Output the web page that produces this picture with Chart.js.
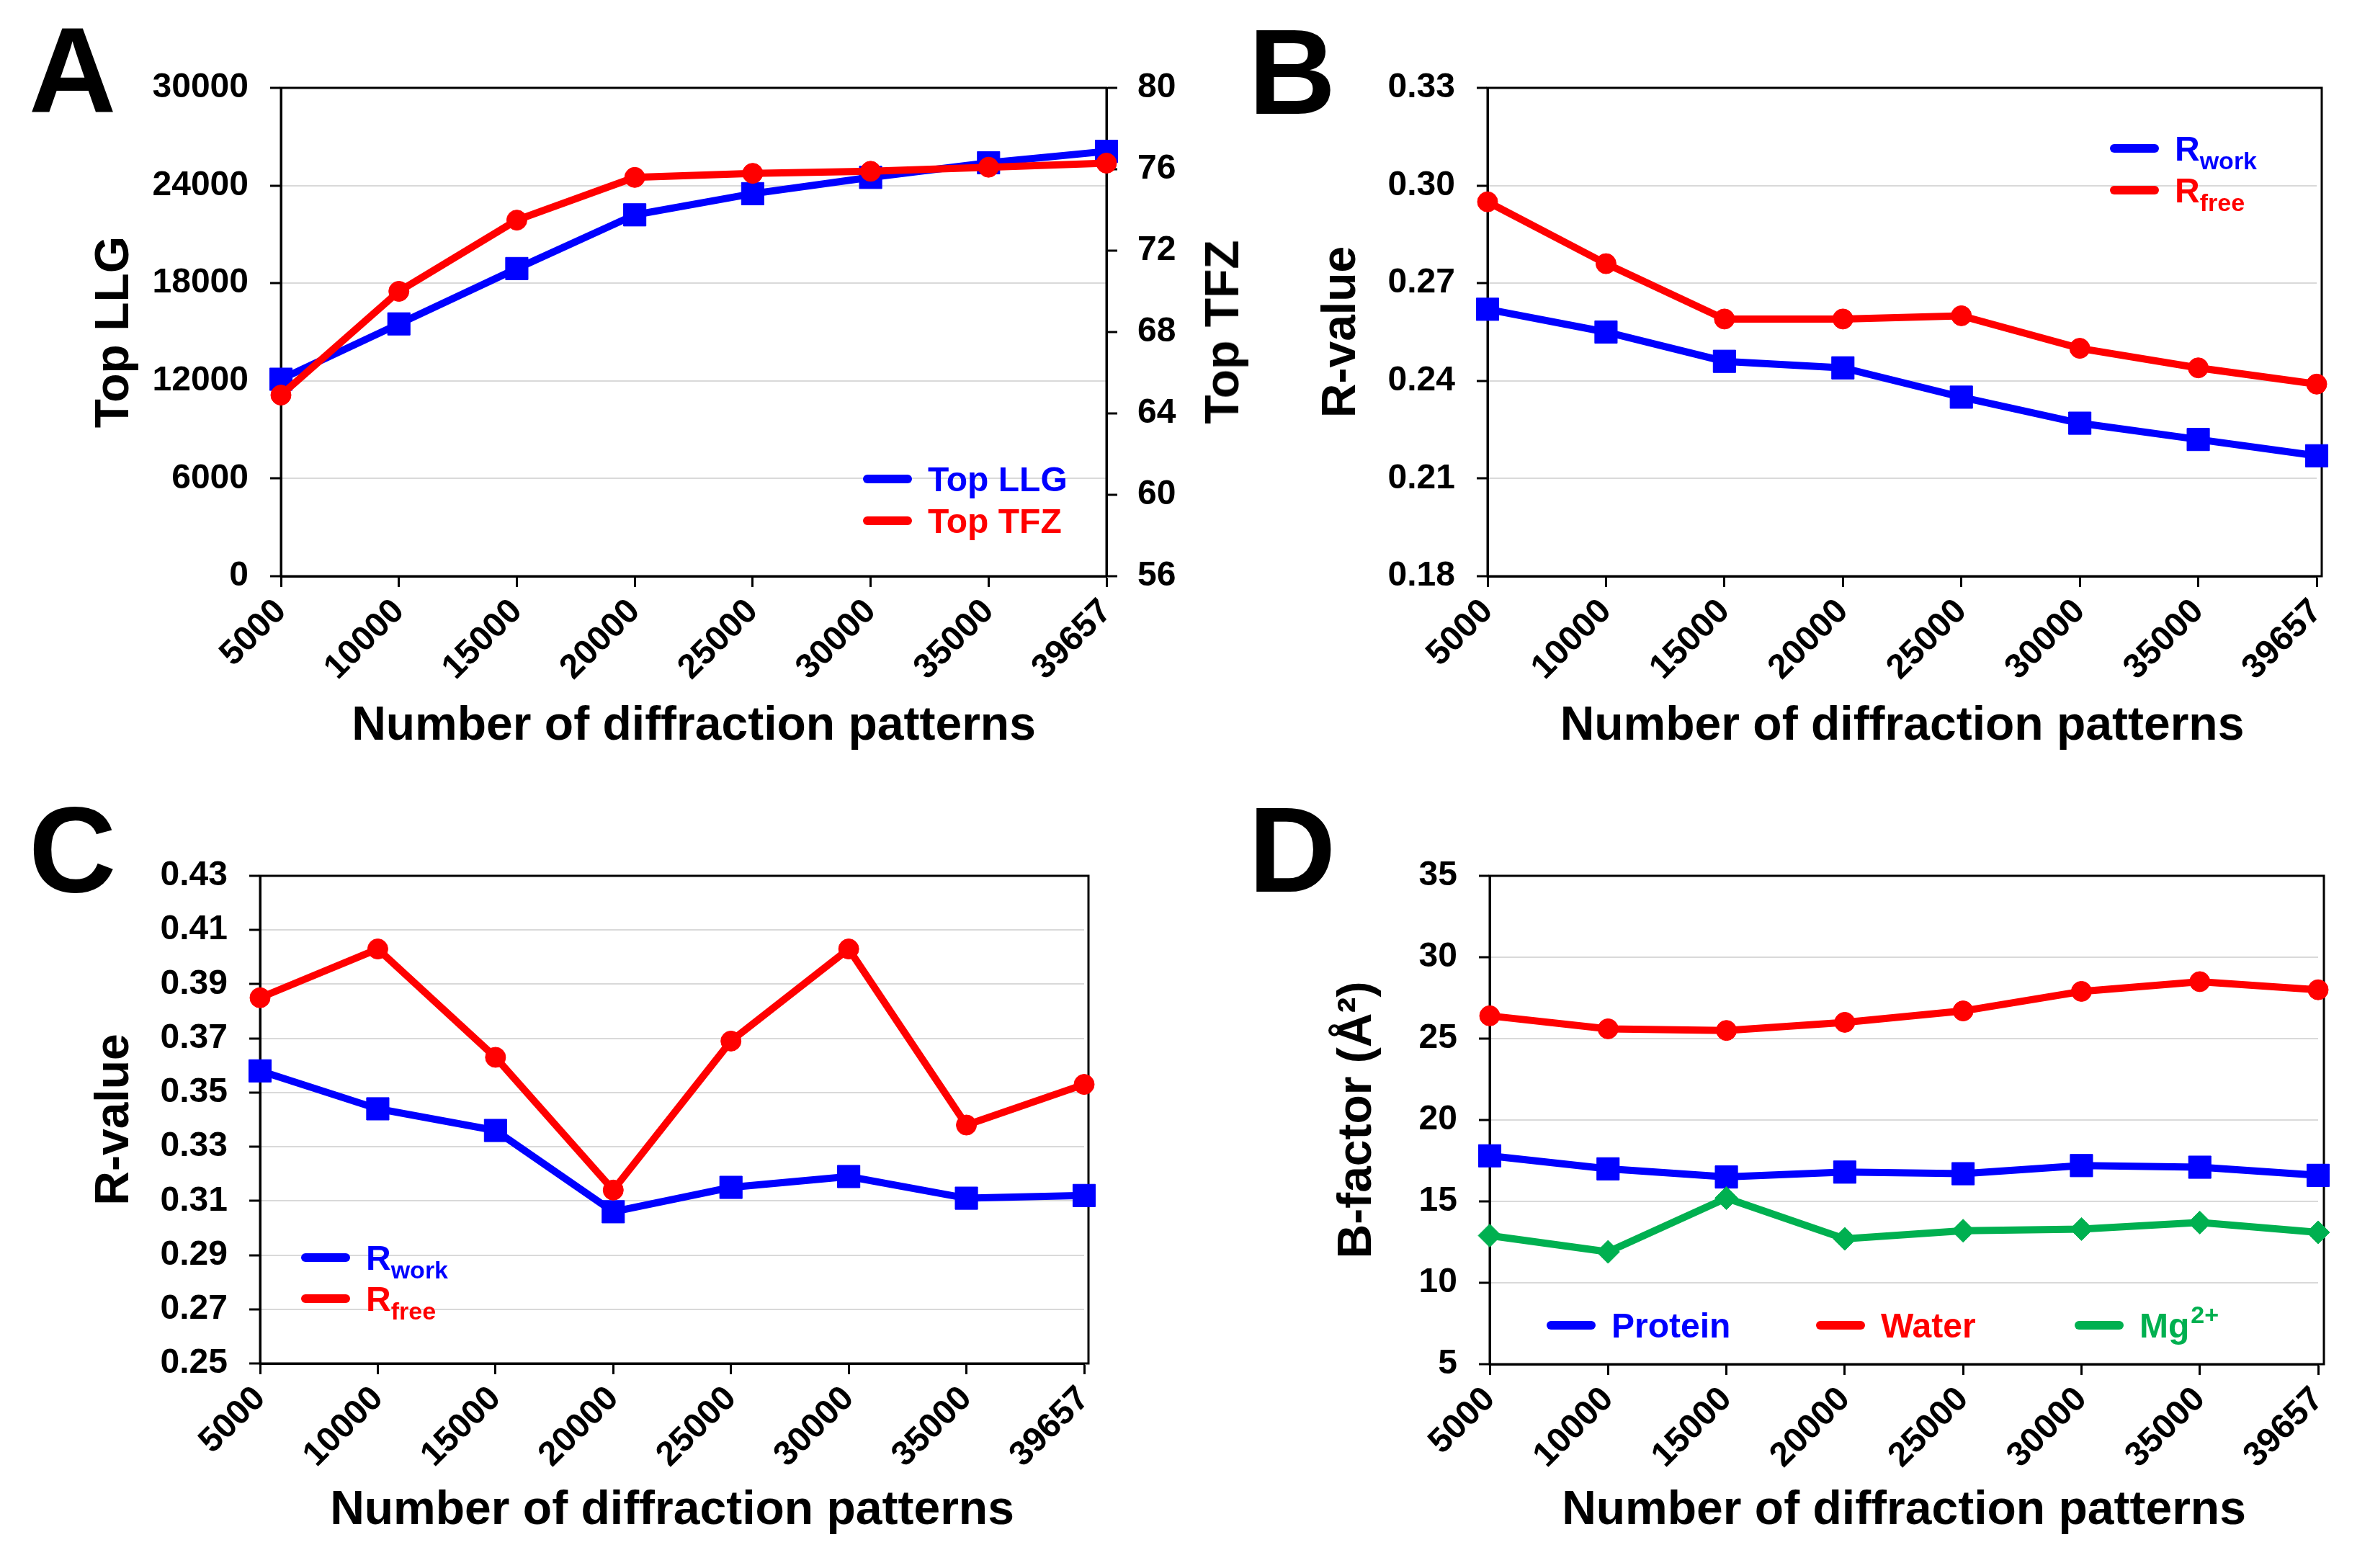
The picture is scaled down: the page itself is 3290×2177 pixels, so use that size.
<!DOCTYPE html>
<html>
<head>
<meta charset="utf-8">
<title>Refinement statistics vs number of diffraction patterns</title>
<script src="https://cdn.jsdelivr.net/npm/chart.js"></script>
<style>
  html, body { margin: 0; padding: 0; background: #fff; }
  body { width: 3290px; height: 2177px; position: relative; overflow: hidden;
         font-family: "Liberation Sans", Arial, sans-serif; font-weight: bold; color: #000; }
  .panel { position: absolute; }
  .letter { position: absolute; font-size: 168px; line-height: 1; }
  .vtitle { position: absolute; font-size: 66px; line-height: 1; white-space: nowrap;
            transform: translate(-50%, -50%) rotate(-90deg); }
</style>
</head>
<body>
<div class="panel" style="left:0;top:0;width:1760px;height:1088px"><canvas id="chartA"></canvas></div>
<div class="panel" style="left:1760px;top:0;width:1530px;height:1088px"><canvas id="chartB"></canvas></div>
<div class="panel" style="left:0;top:1088px;width:1650px;height:1089px"><canvas id="chartC"></canvas></div>
<div class="panel" style="left:1760px;top:1088px;width:1530px;height:1089px"><canvas id="chartD"></canvas></div>

<div class="letter" style="left:40px;top:14px">A</div>
<div class="letter" style="left:1733px;top:16px">B</div>
<div class="letter" style="left:40px;top:1096px">C</div>
<div class="letter" style="left:1733px;top:1096px">D</div>
<div class="vtitle" style="left:1696px;top:461px">Top TFZ</div>

<script>
// x categories (shared by all panels)
var patterns = ['5000', '10000', '15000', '20000', '25000', '30000', '35000', '39657'];

// panel A
var topLLG = [12100, 15500, 18900, 22200, 23500, 24500, 25400, 26100];
var topTFZ = [64.9, 70.0, 73.5, 75.6, 75.8, 75.9, 76.1, 76.3];
var llgTicks = [0, 6000, 12000, 18000, 24000, 30000];
var tfzTicks = [56, 60, 64, 68, 72, 76, 80];

// panel B
var rworkB = [0.262, 0.255, 0.246, 0.244, 0.235, 0.227, 0.222, 0.217];
var rfreeB = [0.295, 0.276, 0.259, 0.259, 0.260, 0.250, 0.244, 0.239];
var rTicksB = [0.18, 0.21, 0.24, 0.27, 0.30, 0.33];

// panel C
var rworkC = [0.358, 0.344, 0.336, 0.306, 0.315, 0.319, 0.311, 0.312];
var rfreeC = [0.385, 0.403, 0.363, 0.314, 0.369, 0.403, 0.338, 0.353];
var rTicksC = [0.25, 0.27, 0.29, 0.31, 0.33, 0.35, 0.37, 0.39, 0.41, 0.43];

// panel D
var bProtein = [17.8, 17.0, 16.5, 16.8, 16.7, 17.2, 17.1, 16.6];
var bWater = [26.4, 25.6, 25.5, 26.0, 26.7, 27.9, 28.5, 28.0];
var bMg = [12.9, 11.9, 15.2, 12.7, 13.2, 13.3, 13.7, 13.1];
var bTicks = [5, 10, 15, 20, 25, 30, 35];

var FONT = '"Liberation Sans", Arial, sans-serif';
var BLUE = '#0000ff', RED = '#ff0000', GREEN = '#00b050';

Chart.defaults.font.family = FONT;
Chart.defaults.font.weight = 'bold';
Chart.defaults.font.size = 48;
Chart.defaults.color = '#000';

// black box round the plot area (ext: how far the right side sits past the last category)
var frame = {
  id: 'frame',
  beforeDatasetsDraw: function (chart, args, opts) {
    var a = chart.chartArea, ctx = chart.ctx, ext = opts.ext || 0;
    ctx.save();
    ctx.strokeStyle = '#000';
    ctx.lineWidth = 3;
    ctx.strokeRect(a.left, a.top, a.right - a.left + ext, a.bottom - a.top);
    ctx.restore();
  }
};

// legend drawn inside the plot, with sub/superscripts
var boxLegend = {
  id: 'boxLegend',
  afterDraw: function (chart, args, opts) {
    var ctx = chart.ctx, a = chart.chartArea;
    ctx.save();
    chart.data.datasets.forEach(function (ds, i) {
      var p = opts.pos[i];
      var x = a.left + p[0], y = a.top + p[1];
      ctx.strokeStyle = ds.borderColor;
      ctx.lineWidth = 12;
      ctx.lineCap = 'round';
      ctx.beginPath();
      ctx.moveTo(x + 6, y);
      ctx.lineTo(x + 62, y);
      ctx.stroke();
      ctx.fillStyle = ds.borderColor;
      ctx.textBaseline = 'alphabetic';
      ctx.font = 'bold 48px ' + FONT;
      var tx = x + 90, by = y + 17;
      ctx.fillText(ds.label, tx, by);
      var w = ctx.measureText(ds.label).width;
      ctx.font = 'bold 34px ' + FONT;
      if (ds.sub) ctx.fillText(ds.sub, tx + w, by + 12);
      if (ds.sup) ctx.fillText(ds.sup, tx + w + 2, by - 20);
    });
    ctx.restore();
  }
};

function series(label, values, color, shape, axis) {
  var r = shape === 'rect' ? 22 : (shape === 'rectRot' ? 16 : 14);
  return {
    label: label, data: values, yAxisID: axis || 'y',
    borderColor: color, backgroundColor: color, borderWidth: 10,
    pointStyle: shape, pointRadius: r, pointHoverRadius: r,
    pointBorderWidth: 1, tension: 0, clip: false
  };
}

function yScale(ticks, fmt, width, title, titlePad, position) {
  return {
    position: position || 'left',
    min: ticks[0], max: ticks[ticks.length - 1],
    afterBuildTicks: function (s) { s.ticks = ticks.map(function (v) { return { value: v }; }); },
    afterFit: function (s) { s.width = width; },
    ticks: { padding: position === 'right' ? 28 : 30, callback: fmt },
    grid: { color: '#d9d9d9', lineWidth: 2, tickColor: '#000', tickWidth: 3, tickLength: 15,
            drawOnChartArea: position !== 'right' },
    border: { color: '#000', width: 3 },
    title: { display: !!title, text: title, font: { size: 66 }, padding: { top: titlePad, bottom: 0 } }
  };
}

function xScale(height, titlePad) {
  return {
    type: 'category', offset: false,
    afterFit: function (s) { s.height = height; s.paddingLeft = 0; s.paddingRight = 0; },
    ticks: { autoSkip: false, minRotation: 45, maxRotation: 45, padding: 6 },
    grid: { drawOnChartArea: false, color: '#000', tickColor: '#000', tickWidth: 3, tickLength: 15 },
    border: { color: '#000', width: 3 },
    title: { display: true, text: 'Number of diffraction patterns', font: { size: 66 },
             padding: { top: 0, bottom: titlePad } }
  };
}

function plain(v) { return String(v); }
function two(v) { return v.toFixed(2); }

function makeChart(id, datasets, scales, pad, legendPos, ext) {
  return new Chart(document.getElementById(id), {
    type: 'line',
    data: { labels: patterns, datasets: datasets },
    options: {
      responsive: true, maintainAspectRatio: false, animation: false,
      devicePixelRatio: 1, events: [],
      layout: { padding: pad },
      plugins: { legend: { display: false }, tooltip: { enabled: false },
                 boxLegend: { pos: legendPos }, frame: { ext: ext } },
      scales: scales
    },
    plugins: [frame, boxLegend]
  });
}

// A: Top LLG / Top TFZ
var llg = series('Top LLG', topLLG, BLUE, 'rect', 'y');
llg.order = 2;
var tfz = series('Top TFZ', topTFZ, RED, 'circle', 'y2');
tfz.order = 1;
makeChart('chartA', [llg, tfz], {
  x: xScale(288, 40),
  y: yScale(llgTicks, plain, 390, 'Top LLG', 120),
  y2: yScale(tfzTicks, plain, 224, '', 0, 'right')
}, { top: 122, left: 0, right: 0, bottom: 0 }, [[808, 543], [808, 601]], 0);

// B: R-values
var rwB = series('R', rworkB, BLUE, 'rect'); rwB.sub = 'work'; rwB.order = 2;
var rfB = series('R', rfreeB, RED, 'circle'); rfB.sub = 'free'; rfB.order = 1;
makeChart('chartB', [rwB, rfB], {
  x: xScale(288, 40),
  y: yScale(rTicksB, two, 305, 'R-value', 63)
}, { top: 122, left: 0, right: 74, bottom: 0 }, [[864, 84], [864, 142]], 7);

// C: R-values
var rwC = series('R', rworkC, BLUE, 'rect'); rwC.sub = 'work'; rwC.order = 2;
var rfC = series('R', rfreeC, RED, 'circle'); rfC.sub = 'free'; rfC.order = 1;
makeChart('chartC', [rwC, rfC], {
  x: xScale(284, 40),
  y: yScale(rTicksC, two, 361, 'R-value', 120)
}, { top: 128, left: 0, right: 145, bottom: 0 }, [[57, 530], [57, 587]], 6);

// D: B-factors
var prot = series('Protein', bProtein, BLUE, 'rect'); prot.order = 3;
var wat = series('Water', bWater, RED, 'circle'); wat.order = 2;
var mg = series('Mg', bMg, GREEN, 'rectRot'); mg.sup = '2+'; mg.order = 1;
makeChart('chartD', [prot, wat, mg], {
  x: xScale(283, 40),
  y: yScale(bTicks, plain, 308, 'B-factor (\u00c5\u00b2)', 85)
}, { top: 128, left: 0, right: 72, bottom: 0 }, [[79, 624], [453, 624], [812, 624]], 8);
</script>
</body>
</html>
